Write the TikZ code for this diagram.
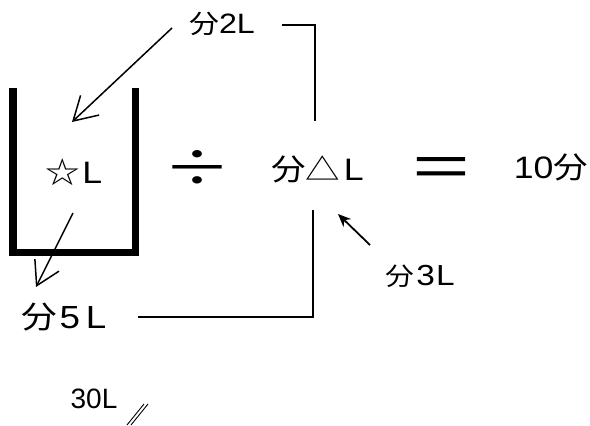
\documentclass[tikz,border=0pt]{standalone}
\usepackage{fontspec}
\setmainfont{Noto Sans CJK JP}
\newfontfamily\opfont{Noto Sans CJK JP}
\newfontfamily\latfont{Liberation Sans}
\newcommand\lt[2]{{\fontsize{#1pt}{#1pt}\latfont #2}}
\newcommand\cj[2]{{\fontsize{#1pt}{#1pt}\selectfont #2}}
\usetikzlibrary{arrows.meta}
\begin{document}
\begin{tikzpicture}[x=1pt,y=-1pt,
  lbl/.style={inner sep=0pt, anchor=base},
  conn/.style={line width=1.8pt},
  barb/.style={line width=1.5pt, -{Straight Barb[length=23pt,width=27pt,line width=1.5pt]}},
  small arrow/.style={line width=1.8pt, -{Stealth[length=13pt,width=11pt]}},
  tank/.style={line width=7.5pt, miter limit=10}]
\useasboundingbox (0,0) rectangle (590,426);
% tank
\draw[tank] (13,88) -- (13,252.5) -- (135.5,252.5) -- (135.5,88);
% labels
\node[lbl] (t2) at (222,33) {\scalebox{1.15}[1]{\cj{26}{分}\lt{28}{2L}}};
\node[lbl] (star) at (74,183) {\scalebox{1.15}[1]{\cj{30}{☆}\hspace{2pt}\lt{31}{L}}};
\node[lbl, anchor=center] (div) at (197.5,168.5) {\resizebox{68pt}{36pt}{\opfont ÷}};
\node[lbl] (tri) at (317.5,180) {\scalebox{1.15}[1]{\cj{30}{分△}\hspace{3pt}\lt{31}{L}}};
\node[lbl] (eq) at (441,185) {\resizebox{58pt}{28pt}{\latfont =}};
\node[lbl] (ten) at (551,178) {\scalebox{1.15}[1]{\lt{31}{10}\cj{30}{分}}};
\node[lbl] (t3) at (420,285) {\scalebox{1.15}[1]{\cj{25}{分}\hspace{2pt}\lt{29}{3}\hspace{1pt}\lt{29}{L}}};
\node[lbl] (t5) at (64,328) {\scalebox{1.15}[1]{\cj{31}{分}\hspace{2pt}\lt{32}{5}\hspace{5pt}\lt{32}{L}}};
\node[lbl] (t30) at (94,408) {\lt{28}{30L}};
% coordinates
\coordinate (b1s) at (282,25);
\coordinate (b1e) at (315,121);
\coordinate (b2s) at (313,210);
\coordinate (b2e) at (138,317);
\coordinate (a1s) at (172,28);
\coordinate (a1e) at (72,122);
\coordinate (a2s) at (73,213);
\coordinate (a2e) at (36,287);
\coordinate (a3s) at (370,245);
\coordinate (a3e) at (338,214);
\coordinate (s1a) at (127,425);
\coordinate (s1b) at (144,404);
\coordinate (s2a) at (131,425);
\coordinate (s2b) at (148,404);
% connectors
\draw[conn] (b1s) -| (b1e);
\draw[conn] (b2s) |- (b2e);
\draw[barb] (a1s) -- (a1e);
\draw[barb] (a2s) -- (a2e);
\draw[small arrow] (a3s) -- (a3e);
\draw[line width=0.9pt] (s1a) -- (s1b);
\draw[line width=0.9pt] (s2a) -- (s2b);
\end{tikzpicture}
\end{document}
